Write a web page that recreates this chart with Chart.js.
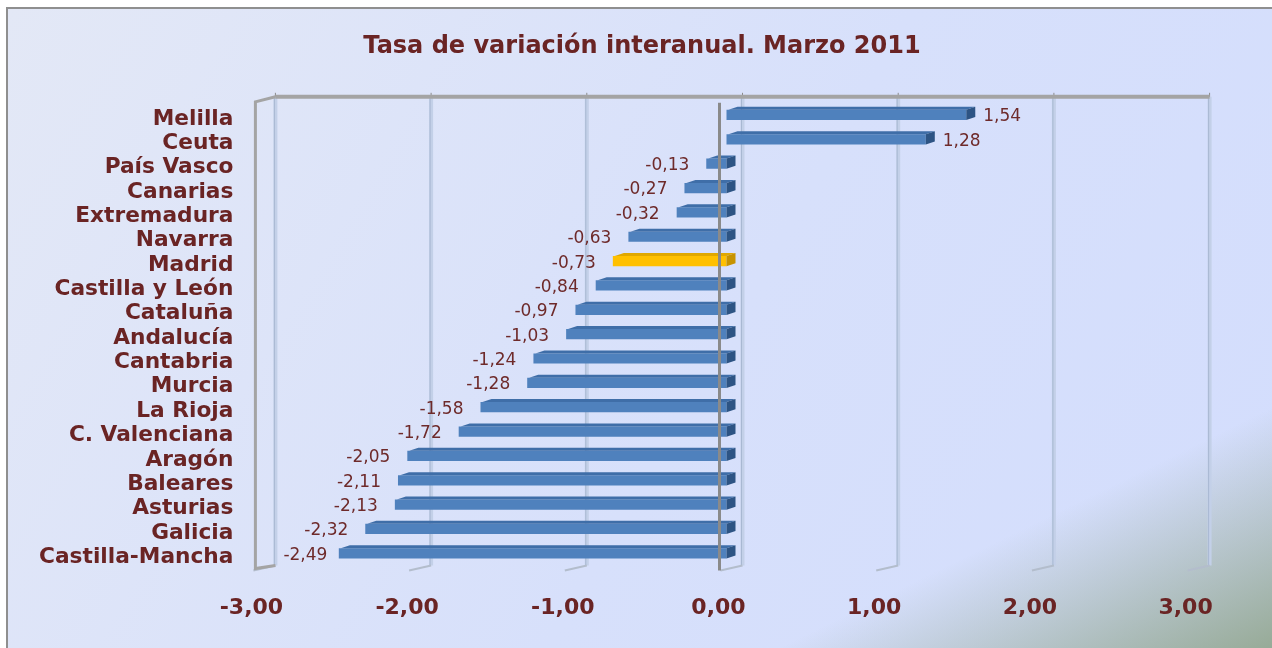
<!DOCTYPE html>
<html>
<head>
<meta charset="utf-8">
<script src="https://cdn.jsdelivr.net/npm/chart.js@4.4.1/dist/chart.umd.min.js"></script>
<style>
html, body { margin: 0; padding: 0; background: #fff; overflow: hidden; }
#frame {
    position: absolute; left: 6px; top: 7px; width: 1272px; height: 648px;
    border-left: 2px solid #8f8f8f; border-top: 2px solid #8f8f8f;
    background:
        linear-gradient(154deg, rgba(148, 168, 146, 0) 80%, rgba(148, 168, 146, 1) 100%),
        linear-gradient(120deg, #e3e8f6 0%, #d7e0fb 55%, #d3ddfd 100%);
}
#chart { position: absolute; left: 0; top: 0; }
</style>
</head>
<body>
<div id="frame"></div>
<canvas id="chart" width="1272" height="648"></canvas>
<script>
const categories = ['Melilla', 'Ceuta', 'País Vasco', 'Canarias', 'Extremadura', 'Navarra', 'Madrid',
    'Castilla y León', 'Cataluña', 'Andalucía', 'Cantabria', 'Murcia', 'La Rioja', 'C. Valenciana',
    'Aragón', 'Baleares', 'Asturias', 'Galicia', 'Castilla-Mancha'];
const values = [1.54, 1.28, -0.13, -0.27, -0.32, -0.63, -0.73, -0.84, -0.97, -1.03, -1.24, -1.28,
    -1.58, -1.72, -2.05, -2.11, -2.13, -2.32, -2.49];
const highlighted = 'Madrid';
const xMin = -3, xMax = 3, xStep = 1;

const maroon = '#6a2424';
const font = '"DejaVu Sans", Verdana, sans-serif';
const depth = 9, rise = 3, wallOff = 16;

const fmt = v => v.toFixed(2).replace('.', ',');

const isHi = categories.map(c => c === highlighted);
const faceColors = isHi.map(h => h ? '#ffc000' : '#4f81bd');
const capColors = isHi.map(h => h ? '#c79300' : '#2d5484');
const topColors = isHi.map(h => h ? '#e0a800' : '#3f6ea8');

function line(ctx, x1, y1, x2, y2) {
    ctx.beginPath();
    ctx.moveTo(x1, y1);
    ctx.lineTo(x2, y2);
    ctx.stroke();
}

// back wall, floor feet and frame of the 3d box
const wallPlugin = {
    id: 'wall',
    beforeDatasetsDraw(chart) {
        const ctx = chart.ctx, x = chart.scales.x, a = chart.chartArea;
        const top = a.top - 6, bot = a.bottom;
        ctx.save();
        for (let v = xMin; v <= xMax; v += xStep) {
            const px = x.getPixelForValue(v) + wallOff;
            ctx.strokeStyle = '#c3d0e8'; ctx.lineWidth = 4;
            line(ctx, px, top, px, bot);
            ctx.strokeStyle = '#a8b8d2'; ctx.lineWidth = 1;
            line(ctx, px - 1, top, px - 1, bot);
            ctx.strokeStyle = '#b3bdcc'; ctx.lineWidth = 2;
            line(ctx, px, bot, px - 22, bot + 5);
            ctx.strokeStyle = '#8a8a8a'; ctx.lineWidth = 1;
            line(ctx, px, top - 4, px, top);
        }
        const l = x.getPixelForValue(xMin) + wallOff;
        const r = x.getPixelForValue(xMax) + wallOff;
        ctx.strokeStyle = '#a4a4a4'; ctx.lineWidth = 4;
        line(ctx, l, top, r, top);
        ctx.lineWidth = 3;
        ctx.beginPath();
        ctx.moveTo(l, top);
        ctx.lineTo(l - 20, top + 5);
        ctx.lineTo(l - 20, bot + 3);
        ctx.lineTo(l, bot);
        ctx.stroke();
        ctx.restore();
    }
};

// end caps of the bars, zero line and value labels
const barsPlugin = {
    id: 'bars3d',
    afterDatasetsDraw(chart) {
        const ctx = chart.ctx, x = chart.scales.x, a = chart.chartArea;
        const meta = chart.getDatasetMeta(0);
        ctx.save();
        meta.data.forEach((bar, i) => {
            const p = bar.getProps(['x', 'y', 'base', 'height'], true);
            const left = Math.min(p.x, p.base), right = Math.max(p.x, p.base);
            const t = p.y - p.height / 2, b = p.y + p.height / 2;
            ctx.fillStyle = topColors[i];
            ctx.beginPath();
            ctx.moveTo(left + 2, t);
            ctx.lineTo(left + 2 + depth, t - rise);
            ctx.lineTo(right + depth, t - rise);
            ctx.lineTo(right, t);
            ctx.closePath();
            ctx.fill();
            ctx.fillStyle = capColors[i];
            ctx.beginPath();
            ctx.moveTo(right, t);
            ctx.lineTo(right + depth, t - rise);
            ctx.lineTo(right + depth, b - rise);
            ctx.lineTo(right, b);
            ctx.closePath();
            ctx.fill();
        });

        const zx = x.getPixelForValue(0) - 7;
        ctx.strokeStyle = '#8a8a8a'; ctx.lineWidth = 3;
        line(ctx, zx, a.top, zx, a.bottom + 5);

        ctx.font = '17px ' + font;
        ctx.fillStyle = '#6e2a2a';
        ctx.textBaseline = 'middle';
        meta.data.forEach((bar, i) => {
            const v = values[i];
            const txt = fmt(v);
            const ty = bar.y + 2;
            if (v < 0) {
                const w = ctx.measureText(txt).width;
                let tx = bar.x - 17;
                tx = Math.max(tx, a.left + 24 + w);
                ctx.textAlign = 'right';
                ctx.fillText(txt, tx, ty);
            } else {
                ctx.textAlign = 'left';
                ctx.fillText(txt, bar.x + 17, ty);
            }
        });
        ctx.restore();
    }
};

new Chart(document.getElementById('chart'), {
    type: 'bar',
    data: {
        labels: categories,
        datasets: [{
            data: values,
            backgroundColor: faceColors,
            borderWidth: 0,
            barPercentage: 0.42,
            categoryPercentage: 1
        }]
    },
    options: {
        indexAxis: 'y',
        responsive: false,
        animation: false,
        layout: { padding: { left: 12, right: 0, top: 0, bottom: 0 } },
        plugins: {
            legend: { display: false },
            tooltip: { enabled: false },
            title: {
                display: true,
                text: 'Tasa de variación interanual. Marzo 2011',
                color: maroon,
                font: { family: font, size: 24, weight: 'bold' },
                padding: { top: 32, bottom: 42 }
            }
        },
        scales: {
            x: {
                min: xMin,
                max: xMax,
                grid: { display: false },
                border: { display: false },
                afterFit(scale) { scale.height = 82.5; },
                ticks: {
                    stepSize: xStep,
                    padding: 22,
                    labelOffset: -8,
                    color: maroon,
                    font: { family: font, size: 22, weight: 'bold' },
                    callback: v => fmt(v)
                }
            },
            y: {
                grid: { display: false },
                border: { display: false },
                afterFit(scale) { scale.width = 247.4; },
                ticks: {
                    padding: 18,
                    labelOffset: 4,
                    autoSkip: false,
                    color: maroon,
                    font: { family: font, size: 21.7, weight: 'bold' }
                }
            },
            // empty right axis that only keeps the space right of the plot
            yRight: {
                type: 'category',
                position: 'right',
                grid: { display: false },
                border: { display: false },
                ticks: { display: false },
                afterFit(scale) { scale.width = 78.4; }
            }
        }
    },
    plugins: [wallPlugin, barsPlugin]
});
</script>
</body>
</html>
